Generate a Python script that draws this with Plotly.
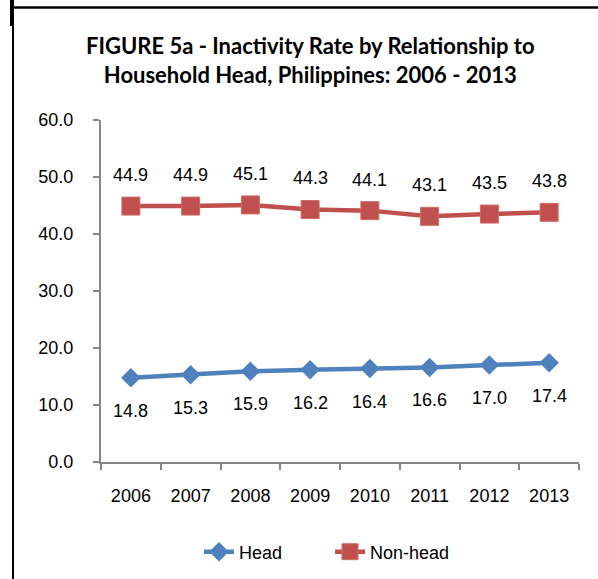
import plotly.graph_objects as go

years = ["2006", "2007", "2008", "2009", "2010", "2011", "2012", "2013"]
head = [14.8, 15.3, 15.9, 16.2, 16.4, 16.6, 17.0, 17.4]
non_head = [44.9, 44.9, 45.1, 44.3, 44.1, 43.1, 43.5, 43.8]
y_ticks = [0, 10, 20, 30, 40, 50, 60]
title_lines = ["FIGURE 5a - Inactivity Rate by Relationship to",
               "Household Head, Philippines: 2006 - 2013"]

BLUE = "#4F81BD"
RED = "#C0504D"
W, H = 598, 579
L, R, T, B = 101, 19, 120, 117
PW, PH = W - L - R, H - T - B
FONT = "Liberation Sans, Arial"

def px_x(px):
    return (px - L) / PW

def px_y(py):
    return (H - B - py) / PH

fig = go.Figure()
fig.add_trace(go.Scatter(
    x=years, y=head, name="Head", mode="lines+markers",
    line=dict(color=BLUE, width=4.5),
    marker=dict(symbol="diamond", size=15, color=BLUE, line=dict(color=BLUE, width=0)),
))
fig.add_trace(go.Scatter(
    x=years, y=non_head, name="Non-head", mode="lines+markers",
    line=dict(color=RED, width=4.5),
    marker=dict(symbol="square", size=18, color=RED, line=dict(color="#D06B68", width=1)),
))

annotations = []
for i, v in enumerate(head):
    annotations.append(dict(x=i, y=v, xref="x", yref="y", text=f"{v:.1f}", showarrow=False, yshift=-33,
                            font=dict(family=FONT, size=18, color="#000")))
for i, v in enumerate(non_head):
    annotations.append(dict(x=i, y=v, xref="x", yref="y", text=f"{v:.1f}", showarrow=False, yshift=31,
                            font=dict(family=FONT, size=18, color="#000")))
annotations.append(dict(xref="paper", yref="paper", x=px_x(310), y=px_y(60),
                        text="<br>".join(f"<b>{t}</b>" for t in title_lines),
                        showarrow=False, xanchor="center", yanchor="middle",
                        font=dict(family="Lato, Open Sans", size=22, color="#000")))

shapes = [
    dict(type="line", xref="paper", yref="paper", x0=px_x(12), x1=px_x(600), y0=px_y(7.5), y1=px_y(7.5),
         line=dict(color="#000", width=2.5)),
    dict(type="line", xref="paper", yref="paper", x0=px_x(13), x1=px_x(13), y0=px_y(0), y1=px_y(580),
         line=dict(color="#000", width=2)),
    dict(type="line", xref="paper", yref="paper", x0=px_x(11.5), x1=px_x(11.5), y0=px_y(0), y1=px_y(26),
         line=dict(color="#000", width=3)),
]

fig.update_layout(
    width=W, height=H,
    margin=dict(l=L, r=R, t=T, b=B, autoexpand=False),
    paper_bgcolor="white", plot_bgcolor="white",
    showlegend=True,
    legend=dict(orientation="h", xanchor="left", yanchor="middle",
                x=px_x(199), y=px_y(552),
                entrywidth=86, entrywidthmode="pixels",
                font=dict(family=FONT, size=18, color="#000")),
    annotations=annotations,
    shapes=shapes,
    font=dict(family=FONT, size=18, color="#000"),
)
fig.update_xaxes(
    type="category", showgrid=False, showline=True, linecolor="#868686", linewidth=2,
    ticks="outside", tickson="boundaries", ticklen=6, tickcolor="#868686", tickwidth=1.5,
    range=[-0.5, len(years) - 0.5], zeroline=False, ticklabelstandoff=16,
    tickfont=dict(family=FONT, size=18, color="#000"),
)
fig.update_yaxes(
    range=[0, 60], tickvals=y_ticks, ticktext=[f"{v:.1f}" for v in y_ticks],
    showgrid=False, showline=True, linecolor="#868686", linewidth=2,
    ticks="outside", ticklen=6, tickcolor="#868686", tickwidth=1.5, zeroline=False,
    ticklabelstandoff=16,
    tickfont=dict(family=FONT, size=18, color="#000"),
)

fig.write_html("out.html")
